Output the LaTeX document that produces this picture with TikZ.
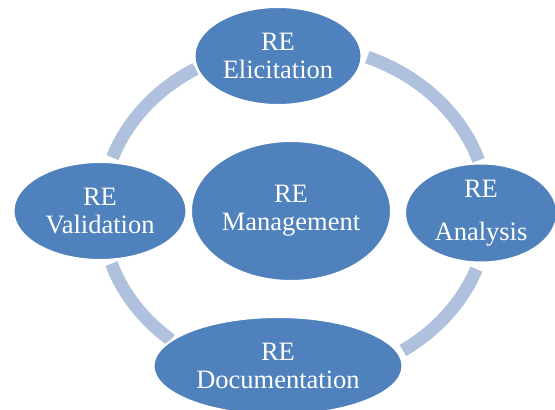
\documentclass[tikz,border=0pt]{standalone}
\usepackage{fontspec}
\setmainfont{Liberation Serif}
\usetikzlibrary{shapes.geometric}
\definecolor{phaseColor}{RGB}{79,129,189}
\definecolor{ringColor}{RGB}{176,193,221}
\newcommand{\phasefont}{\fontsize{26.5}{28}\selectfont}

\begin{document}
\begin{tikzpicture}[x=1pt, y=1pt,
        phase/.style={ellipse, draw=white, line width=2pt, fill=phaseColor, text=white, inner sep=0pt, align=center, font=\phasefont},
        ring/.style={ringColor, line width=13pt}
      ]
      \useasboundingbox (0,0) rectangle (555,410);
      \coordinate (hub) at (295,198);

      \draw[ring] (hub) ++(68:193 and 167) arc[start angle=68, end angle=18, x radius=193, y radius=167];
      \draw[ring] (hub) ++(-20:193 and 167) arc[start angle=-20, end angle=-56, x radius=193, y radius=167];
      \draw[ring] (hub) ++(230:193 and 167) arc[start angle=230, end angle=198, x radius=193, y radius=167];
      \draw[ring] (hub) ++(161:193 and 167) arc[start angle=161, end angle=121, x radius=193, y radius=167];

      \node[phase, minimum width=200, minimum height=140] (mgmt) at (291,199) {RE\\Management};
      \node[phase, minimum width=167, minimum height=98] (elic) at (278,354) {RE\\Elicitation};
      \node[phase, minimum width=152, minimum height=99] (anal) at (481,197) {RE\\[15pt]Analysis};
      \node[phase, minimum width=249, minimum height=98] (docu) at (278,44) {RE\\Documentation};
      \node[phase, minimum width=173, minimum height=98] (valid) at (100,199) {RE\\Validation};
    \end{tikzpicture}
\end{document}
